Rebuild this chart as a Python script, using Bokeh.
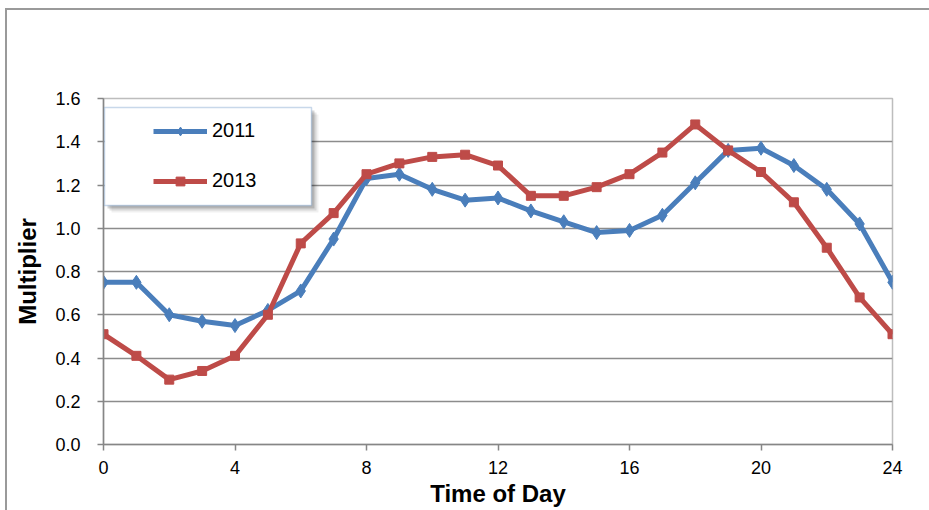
from bokeh.plotting import figure
from bokeh.models import (Range1d, FixedTicker, NumeralTickFormatter, Legend,
                          LegendItem, BoxAnnotation)
from bokeh.embed import file_html
from bokeh.resources import INLINE

# ---- data ----
hours = list(range(25))
y2011 = [0.75, 0.75, 0.60, 0.57, 0.55, 0.62, 0.71, 0.95, 1.23, 1.25, 1.18, 1.13, 1.14,
         1.08, 1.03, 0.98, 0.99, 1.06, 1.21, 1.36, 1.37, 1.29, 1.18, 1.02, 0.75]
y2013 = [0.51, 0.41, 0.30, 0.34, 0.41, 0.60, 0.93, 1.07, 1.25, 1.30, 1.33, 1.34, 1.29,
         1.15, 1.15, 1.19, 1.25, 1.35, 1.48, 1.36, 1.26, 1.12, 0.91, 0.68, 0.51]
series_names = ["2011", "2013"]
x_ticks = [0, 4, 8, 12, 16, 20, 24]
y_ticks = [0.0, 0.2, 0.4, 0.6, 0.8, 1.0, 1.2, 1.4, 1.6]
x_title = "Time of Day"
y_title = "Multiplier"

FONT = "Liberation Sans"
BLUE = "#4a7ebb"
RED = "#be4b48"
AXIS = "#868686"
FRAME_LINE = "#9a9a9a"

p = figure(width=929, height=510, output_backend="svg", toolbar_location=None,
           x_range=Range1d(0, 24), y_range=Range1d(0, 1.6),
           min_border_left=103, min_border_right=37, min_border_top=98,
           min_border_bottom=66)
p.background_fill_color = "white"
p.border_fill_alpha = 0
# outer chart border (left and top edges visible, as in the reference)
p.styles = {
    "background": (f"linear-gradient({FRAME_LINE},{FRAME_LINE}) 5px 8px / 2px 100% no-repeat, "
                   f"linear-gradient({FRAME_LINE},{FRAME_LINE}) 5px 8px / 100% 2px no-repeat, "
                   "white"),
}
p.outline_line_color = "#bdbdbd"
p.outline_line_width = 1.5

# axes
for ax in (p.xaxis[0], p.yaxis[0]):
    ax.axis_line_color = AXIS
    ax.axis_line_width = 1.5
    ax.major_tick_line_color = AXIS
    ax.major_tick_line_width = 1.5
    ax.major_tick_out = 6
    ax.major_tick_in = 0
    ax.minor_tick_line_color = None
    ax.major_label_text_font = FONT
    ax.major_label_text_font_size = "18px"
    ax.major_label_text_color = "black"
    ax.axis_label_text_font = FONT
    ax.axis_label_text_font_size = "24px"
    ax.axis_label_text_font_style = "bold"
    ax.axis_label_text_color = "black"

p.xaxis.ticker = FixedTicker(ticks=x_ticks)
p.yaxis.ticker = FixedTicker(ticks=y_ticks)
p.yaxis.formatter = NumeralTickFormatter(format="0.0")
p.xaxis.axis_label = x_title
p.yaxis.axis_label = y_title
p.xaxis.major_label_standoff = 10
p.yaxis.major_label_standoff = 17
p.xaxis.axis_label_standoff = 3
p.yaxis.axis_label_standoff = 11

p.xgrid.grid_line_color = None
p.ygrid.ticker = FixedTicker(ticks=y_ticks[1:-1])
p.ygrid.grid_line_color = "#8c8c8c"
p.ygrid.grid_line_width = 1.5

# series
l1 = p.line(hours, y2011, line_color=BLUE, line_width=5, line_join="round")
m1 = p.scatter(hours, y2011, marker="diamond", size=14, fill_color=BLUE, line_color=BLUE)
l2 = p.line(hours, y2013, line_color=RED, line_width=5, line_join="round")
m2 = p.scatter(hours, y2013, marker="square", size=9, fill_color=RED, line_color=RED)

# legend frame with soft shadow
for off, a in ((7, 0.06), (5, 0.10), (3, 0.16)):
    p.add_layout(BoxAnnotation(left=104 + off, right=311 + off, top=107 + off, bottom=205 + off,
                               left_units="canvas", right_units="canvas",
                               top_units="canvas", bottom_units="canvas",
                               fill_color="#000000", fill_alpha=a, line_color=None))
p.add_layout(BoxAnnotation(left=104, right=311, top=107, bottom=205,
                           left_units="canvas", right_units="canvas",
                           top_units="canvas", bottom_units="canvas",
                           fill_color="white", fill_alpha=1, line_color=BLUE,
                           line_width=1.5))

legend = Legend(items=[LegendItem(label=series_names[0], renderers=[l1, m1]),
                       LegendItem(label=series_names[1], renderers=[l2, m2])],
                location=(50, 252), padding=0, margin=0, spacing=27,
                glyph_width=54, glyph_height=22, label_height=22,
                label_standoff=5, label_text_font=FONT,
                label_text_font_size="20px", label_text_color="black",
                background_fill_alpha=0, border_line_alpha=0)
p.add_layout(legend)

open("out.html", "w").write(file_html(p, INLINE))
